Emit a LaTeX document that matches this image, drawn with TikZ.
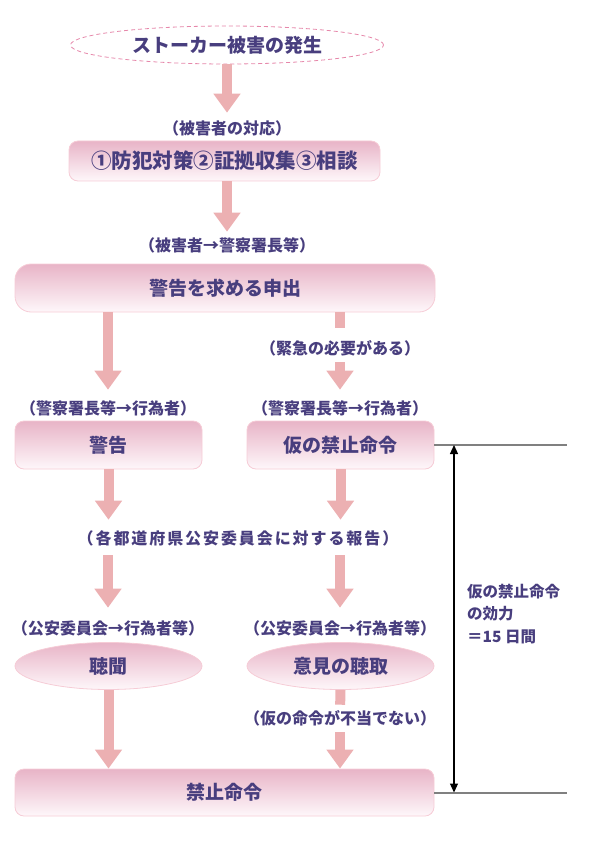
\documentclass[tikz,border=0pt]{standalone}
\usepackage{fontspec}
\setmainfont{Noto Sans CJK JP}
\usetikzlibrary{shapes.geometric,arrows.meta}
\definecolor{txt}{RGB}{72,62,126}
\definecolor{arr}{RGB}{236,176,178}
\definecolor{ptop}{RGB}{232,180,199}
\definecolor{pbot}{RGB}{254,247,250}
\definecolor{pedge}{RGB}{246,204,214}
\definecolor{dashc}{RGB}{230,135,170}
\definecolor{sidegray}{RGB}{128,128,128}
\begin{document}
\begin{tikzpicture}[x=1pt,y=1pt,
  every node/.style={text=txt},
  lbl/.style={font=\fontsize{16}{17}\selectfont\bfseries, inner sep=0pt, text height=12.2pt, text depth=0pt},
  bigtxt/.style={font=\fontsize{19}{20}\selectfont\bfseries},
  pbox/.style={bigtxt, draw=pedge, line width=0.8pt, top color=ptop, bottom color=pbot, rounded corners=9pt, inner sep=0pt},
  pell/.style={bigtxt, ellipse, draw=pedge, line width=0.8pt, top color=ptop, bottom color=pbot, inner sep=0pt, minimum width=187pt, minimum height=47pt},
  dashell/.style={bigtxt, ellipse, draw=dashc, line width=0.8pt, dash pattern=on 4pt off 3pt, fill=white, inner sep=0pt, minimum width=313pt, minimum height=38pt},
  bigarrow/.style={draw=arr, line width=10pt, -{Triangle[width=26pt,length=19pt]}},
  shaftline/.style={draw=arr, line width=10pt},
  sideline/.style={draw=sidegray, line width=2pt},
  spanarrow/.style={draw=black, line width=1.2pt, {Triangle[width=8pt,length=9pt]}-{Triangle[width=8pt,length=9pt]}},
]
\useasboundingbox (0,0) rectangle (595,-842);

% nodes
\node[dashell] (start) at (227,-45) {ストーカー被害の発生};
\node[lbl] (lab1) at (227,-128) {（被害者の対応）};
\node[pbox, minimum width=311pt, minimum height=40pt, font=\fontsize{20.5}{21}\selectfont\bfseries] (box1) at (224.5,-161) {①防犯対策②証拠収集③相談};
\node[lbl] (lab2) at (227,-245) {（被害者→警察署長等）};
\node[pbox, rounded corners=16pt, minimum width=420pt, minimum height=48pt] (box2) at (225,-288) {警告を求める申出};
\node[lbl] (labem) at (340,-348) {（緊急の必要がある）};
\node[lbl] (lab3a) at (108,-408) {（警察署長等→行為者）};
\node[lbl] (lab3b) at (340,-408) {（警察署長等→行為者）};
\node[pbox, minimum width=187pt, minimum height=48pt] (box3a) at (108.5,-445) {警告};
\node[pbox, minimum width=187pt, minimum height=48pt] (box3b) at (340.5,-445) {仮の禁止命令};
\node[lbl, font=\fontsize{16}{17}\selectfont\bfseries\addfontfeatures{LetterSpace=12}] (lab4) at (238,-538) {（各都道府県公安委員会に対する報告）};
\node[lbl] (lab5a) at (108,-628) {（公安委員会→行為者等）};
\node[lbl] (lab5b) at (340,-628) {（公安委員会→行為者等）};
\node[pell] (ell5a) at (108.5,-666) {聴聞};
\node[pell] (ell5b) at (340.5,-666) {意見の聴取};
\node[lbl] (labok) at (340,-718) {（仮の命令が不当でない）};
\node[pbox, minimum width=419pt, minimum height=47pt] (box6) at (224.5,-792.5) {禁止命令};
\node[anchor=north west, align=left, inner sep=0pt, font=\fontsize{15.5}{22.5}\selectfont\bfseries] (side) at (467,-584) {仮の禁止命令\\の効力\\＝15 日間};

% side lines
\coordinate (r1) at (567,-445);
\coordinate (r2) at (567,-792.5);
\coordinate (v1) at (454,-445);
\coordinate (v2) at (454,-792.5);
\draw[sideline] (box3b.east) -- (r1);
\draw[sideline] (box6.east) -- (r2);
\draw[spanarrow] (v1) -- (v2);

% pink arrows
\draw[bigarrow, shorten >=9pt] (start.south) -- (start.south |- lab1.north);
\draw[bigarrow, shorten >=7pt] (box1.south -| lab2.north) -- (lab2.north);
\draw[bigarrow, shorten >=12pt] (box2.south -| lab3a.north) -- (lab3a.north);
\draw[shaftline, shorten >=14pt] (box2.south -| labem.north) -- (labem.north);
\draw[bigarrow, shorten <=8pt, shorten >=12pt] (labem.south) -- (lab3b.north);
\draw[bigarrow, shorten >=12pt] (box3a.south) -- (box3a.south |- lab4.north);
\draw[bigarrow, shorten >=12pt] (box3b.south) -- (box3b.south |- lab4.north);
\draw[bigarrow, shorten <=11pt, shorten >=14pt] (lab4.south -| lab5a.north) -- (lab5a.north);
\draw[bigarrow, shorten <=11pt, shorten >=14pt] (lab4.south -| lab5b.north) -- (lab5b.north);
\draw[bigarrow] (ell5a.south) -- (ell5a.south |- box6.north);
\draw[shaftline, shorten >=7pt] (ell5b.south) -- (labok.north);
\draw[bigarrow, shorten <=8pt] (labok.south) -- (labok.south |- box6.north);
\end{tikzpicture}
\end{document}
